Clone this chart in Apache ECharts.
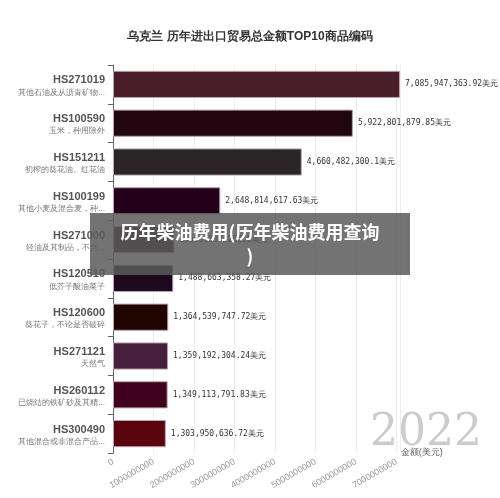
<!DOCTYPE html><html><head><meta charset="utf-8"><script src="https://cdn.jsdelivr.net/npm/echarts@6/dist/echarts.min.js"></script></head><body style="margin:0"><div id="c" style="width:500px;height:498px"></div><script>
const codes=['HS271019','HS100590','HS151211','HS100199','HS271000','HS120510','HS120600','HS271121','HS260112','HS300490'];
const names=['其他石油及从沥青矿物...','玉米，种用除外','初榨的葵花油、红花油','其他小麦及混合麦，种...','轻油及其制品，不含...','低芥子酸油菜子','葵花子，不论是否破碎','天然气','已烧结的铁矿砂及其精...','其他混合或非混合产品...'];
const values=[7085947363.92,5922801879.85,4660482300.1,2648814617.63,1516837262.6,1488663358.27,1364539747.72,1359192304.24,1349113791.83,1303950636.72];
const colors=['#4a1e28','#220710','#2a2626','#24021c','#2e0e12','#1e0a1e','#1f0400','#47203d','#40001e','#5a040e'];
const fmt=v=>{const s=String(v);const [i,d]=s.split('.');return i.replace(/\B(?=(\d{3})+(?!\d))/g,',')+(d?'.'+d:'')+'美元';};
const ch=echarts.init(document.getElementById('c'));
ch.setOption({
title:{text:'乌克兰 历年进出口贸易总金额TOP10商品编码',left:'center',top:26,textStyle:{fontSize:12,fontWeight:'bold',color:'#333'}},
grid:{left:113,right:100,top:65,bottom:45},
xAxis:{type:'value',max:7085947363.92,name:'金额(美元)',nameLocation:'end',nameGap:-60,nameTextStyle:{fontSize:9,color:'#666',padding:[50,0,0,0]},splitLine:{lineStyle:{color:'#eee'}},axisLabel:{rotate:30,fontSize:9,color:'#999',interval:0,formatter:v=>String(v)}},
yAxis:{type:'category',inverse:true,data:codes,axisLine:{show:true,lineStyle:{color:'#666'}},axisTick:{show:true},axisLabel:{formatter:(v,i)=>'{a|'+v+'}\n{b|'+names[i]+'}',rich:{a:{fontSize:11,fontWeight:'bold',color:'#555',align:'right',lineHeight:16},b:{fontSize:8,color:'#777',align:'right'}}}},
series:[{type:'bar',barWidth:'70%',data:values.map((v,i)=>({value:v,itemStyle:{color:colors[i],borderColor:'#b8a0b0',borderWidth:1}})),label:{show:true,position:'right',fontSize:8,color:'#333',fontFamily:'DejaVu Sans Mono',formatter:p=>fmt(p.value)}}],
graphic:[
{type:'text',right:18,bottom:42,z:1,style:{text:'2022',fontSize:44,fill:'#ccc',fontFamily:'DejaVu Serif'}},
{type:'rect',z:100,shape:{x:90,y:213,width:320,height:62},style:{fill:'rgba(90,90,90,0.85)'}},
{type:'text',z:101,x:250,y:244,style:{text:'历年柴油费用(历年柴油费用查询\n)',font:'bold 18px "Noto Sans CJK SC"',fill:'#fff',align:'center',verticalAlign:'middle',lineHeight:24}}
]});
</script></body></html>
